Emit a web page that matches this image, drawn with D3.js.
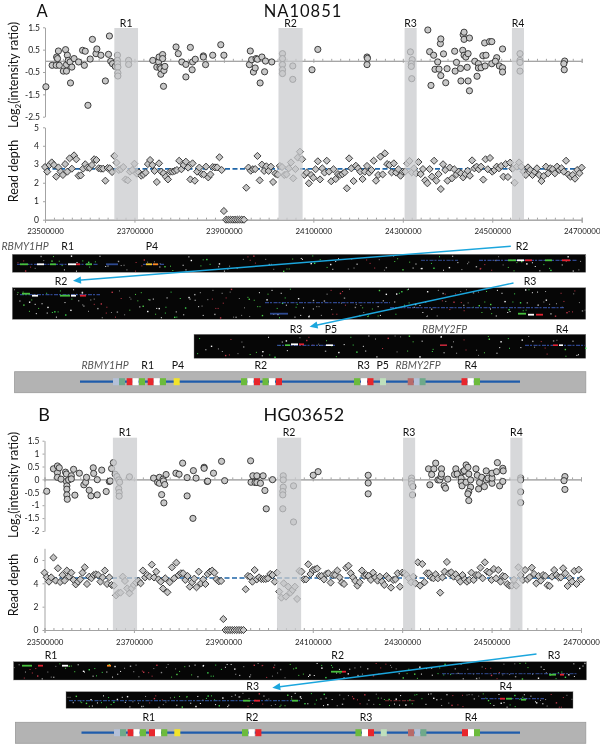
<!DOCTYPE html>
<html><head><meta charset="utf-8">
<script src="https://cdn.jsdelivr.net/npm/d3@7"></script>
<style>html,body{margin:0;padding:0;background:#fff}svg{display:block;filter:blur(.3px)}text{font-family:Lato,"Liberation Sans",sans-serif;fill:#222}</style>
</head><body><svg id="c" width="600" height="745"><defs><filter id="soft" x="-5%" y="-50%" width="110%" height="200%"><feGaussianBlur stdDeviation=".45"/></filter></defs></svg>
<script>
// Positions are kb from the axis start at 23,500,000 bp
const axisStartBp = 23500000, axisSpanKb = 1200, depthStepKb = 5;
const xTickKb = [0,200,400,600,800,1000,1200];
const xMinorKb = d3.range(0,1201,20);

const naLog = [[2,-1.16],[16,-.20],[25,-.20],[26,.17],[28,.10],[30,.44],[32,-.20],[41,-.46],[46,.50],[48,-.46],[50,.25],[48,-.17],[52,.02],[56,-.05],[57,-.99],[60,-.28],[65,.10],[75,-.05],[84,.47],[88,-.20],[90,.43],[96,-1.99],[101,.08],[106,.96],[114,.32],[116,.53],[125,.25],[135,-.90],[142,.29],[144,1.11],[147,-.02],[151,-.13],[157,-.25],[162,.25],[162,.02],[162,-.13],[163,-.28],[163,-.54],[163,-.68],[187,.02],[187,-.16],[241,.02],[250,-.28],[254,-.05],[255,.17],[257,-.28],[259,-.35],[259,-.60],[263,.28],[263,.10],[265,-1.14],[266,-.43],[268,-.25],[293,.62],[298,.32],[306,-.05],[315,-.16],[315,-.72],[325,.60],[330,-.05],[329,-.40],[336,.07],[354,.22],[354,.17],[359,-.17],[375,.25],[393,.72],[400,.25],[457,-.17],[459,.44],[462,.05],[466,-.50],[470,-.32],[472,.10],[475,.07],[481,-.99],[485,.17],[491,-.49],[493,-.01],[507,-.05],[531,.32],[531,.10],[531,-.17],[531,-.40],[531,-.57],[554,-.23],[554,-.83],[597,-.40],[610,.51],[720,.17],[721,.11],[720,-.17],[817,.40],[821,.05],[819,-.13],[819,-.25],[820,-.80],[856,1.38],[860,.41],[863,-1.10],[869,.25],[872,-.38],[878,-.05],[881,-.37],[884,.77],[885,.98],[885,-.66],[891,.31],[896,-.98],[899,-.35],[916,.43],[917,-.46],[920,-.07],[929,-.34],[930,-.90],[934,.47],[935,1.17],[937,1.28],[937,.96],[937,.25],[941,.17],[944,-.29],[946,.32],[946,-.90],[949,1.02],[949,-1.34],[961,-.02],[966,-.69],[969,-.13],[969,-.32],[975,-.31],[979,.23],[983,.80],[986,.25],[984,-.23],[994,.86],[999,.86],[999,-.13],[1010,.14],[1007,-.02],[1016,-.23],[1023,.53],[1023,-.31],[1023,-.50],[1062,.32],[1062,.02],[1062,-.07],[1062,-.46],[1162,-.01],[1160,-.13],[1161,-.40]];

const naDepth = [2.85,2.60,2.96,3.10,2.96,2.33,2.83,2.60,2.42,3.01,2.60,3.32,2.76,3.48,3.27,2.38,2.40,2.76,3.00,2.82,2.80,2.96,3.27,3.23,2.78,2.76,2.76,2.11,2.80,2.78,2.58,3.45,3.09,2.69,2.73,2.85,2.18,2.13,2.60,2.69,3.03,2.50,2.56,2.38,2.45,2.55,3.01,3.23,2.96,2.64,2.04,3.05,2.60,2.51,2.33,2.18,2.60,2.60,2.64,2.69,3.19,2.73,2.96,3.14,2.82,2.18,3.05,2.11,2.60,2.82,2.47,2.45,2.87,2.29,2.45,2.85,2.83,2.83,3.38,2.69,.47,0,0,0,0,0,0,0,0,0,1.73,2.82,2.65,2.73,2.74,3.45,2.13,2.98,2.64,2.89,2.64,2.87,2.04,2.50,2.44,2.91,2.85,2.42,2.45,2.78,3.10,2.24,2.74,3.36,3.68,3.27,2.42,2.55,1.97,2.42,2.27,2.73,3.16,2.18,2.78,2.55,3.19,2.60,2.08,2.73,2.20,2.47,2.42,2.47,2.56,1.70,3.32,2.78,2.09,2.92,2.78,2.60,2.20,2.60,2.91,2.55,2.69,3.19,2.11,2.42,3.41,2.45,3.59,3.01,2.96,2.56,3.05,2.55,2.73,2.38,2.60,2.60,3.05,3.18,2.56,2.78,2.51,3.12,2.47,2.74,2.13,1.97,2.74,2.33,3.19,2.11,2.47,1.66,3.00,2.69,2.11,2.82,2.24,2.73,2.45,2.60,2.51,2.29,2.47,2.65,2.38,3.21,2.78,2.87,2.73,2.87,2.17,3.27,2.73,3.34,2.60,2.69,2.87,2.78,2.91,2.33,3.01,2.31,3.09,2.76,2.00,2.87,3.10,2.87,2.60,2.42,2.83,2.69,2.42,2.60,2.78,2.42,2.09,2.36,2.87,2.51,2.78,2.73,2.51,2.87,2.69,2.78,2.60,3.19,2.45,2.33,2.42,2.22,2.69,2.51,2.82];

const hgLog = [[5,-.46],[20,.41],[29,.52],[29,.26],[29,.08],[33,.45],[37,.01],[47,.28],[49,.21],[49,-.08],[50,-.25],[50,-.38],[50,-.60],[51,-.77],[54,-.02],[60,.14],[60,.02],[65,.39],[68,-.61],[78,.24],[88,-.21],[92,-.11],[94,.08],[100,-.42],[104,-.64],[109,.45],[110,.23],[118,-.01],[118,-.60],[128,.36],[138,-.47],[145,-.08],[147,-.06],[150,.42],[154,.65],[158,.20],[162,.11],[166,-.02],[168,-.11],[166,-.36],[167,-.51],[167,-.65],[190,.10],[244,.05],[253,-.11],[257,.08],[257,-.15],[262,-.59],[265,.01],[266,-.06],[267,-.91],[269,-.20],[272,.19],[294,.24],[301,.20],[309,.63],[319,-.64],[319,.07],[333,.34],[332,-1.51],[339,.05],[357,.47],[357,.43],[364,-.08],[365,-.07],[378,.24],[396,.70],[403,-.05],[461,.72],[462,-.11],[466,.14],[471,-.12],[475,.14],[475,-.12],[483,-.15],[489,.14],[493,-.43],[496,-1.14],[510,-.01],[534,.14],[534,-.02],[534,-.30],[533,-.47],[533,-.60],[533,-1.14],[557,-.25],[557,-1.65],[601,.16],[612,.30],[724,.16],[724,-.14],[724,-.56],[821,.05],[821,-.06],[821,-.17],[824,-.28],[823,-.60],[859,.41],[862,-.21],[866,.19],[871,.41],[875,.63],[880,-.02],[884,-.02],[887,.11],[888,.41],[888,.21],[894,-.25],[897,-.34],[902,.01],[917,.19],[920,.41],[923,.21],[932,.05],[932,-.11],[934,-.25],[936,.30],[939,.34],[943,.56],[947,.47],[943,-.11],[949,.21],[953,-.30],[949,-.47],[947,-.56],[949,-.82],[953,-.02],[965,.41],[968,.16],[971,-.37],[973,-.12],[978,.08],[984,-.28],[988,.33],[988,-.02],[992,.05],[1001,-.15],[1001,.05],[1001,.24],[1011,.30],[1013,.65],[1018,-.25],[1025,.43],[1026,.33],[1025,-.08],[1065,.06],[1065,-.02],[1065,-.48],[1065,-.90],[1164,.11],[1162,-.05],[1164,-.39]];

const hgDepth = [4.91,4.51,4.14,4.51,6.2,4.23,5.29,4.11,4.71,4.23,5.09,4.57,4.91,4.29,3.91,4.14,4.34,4.91,5.37,3.94,4.57,4.43,4.71,4.77,4.71,4.14,4.51,5.09,3.94,4.51,3.86,3.8,2.97,3.17,3.2,4.57,4.2,3.57,3.14,3.57,3.86,4.06,4.23,4.0,5.09,4.51,4.71,4.57,5.6,4.5,5.0,4.34,4.14,3.55,4.43,3.23,4.09,5.37,4.43,5.77,4.71,4.86,4.86,4.29,4.63,3.71,4.09,4.4,3.66,5.0,4.0,4.34,3.94,4.8,5.0,5.09,4.91,4.34,4.17,4.2,.94,0,0,0,0,0,0,0,0,0,3.49,4.63,4.57,4.14,5.14,4.34,4.51,4.37,4.37,4.37,4.43,4.8,4.71,4.14,4.91,3.29,2.77,4.0,2.86,3.71,3.2,3.43,3.71,2.66,5.06,5.0,4.34,4.34,5.63,4.8,5.14,5.2,5.26,4.63,4.63,4.34,4.8,4.86,4.06,4.71,4.71,5.09,4.51,4.06,3.94,5.34,5.51,4.86,4.51,4.2,3.8,4.09,5.09,4.63,4.71,4.63,4.29,4.91,4.51,4.23,4.57,4.14,3.86,4.63,4.43,3.63,4.29,4.34,4.86,3.71,4.91,4.86,4.71,4.43,4.09,4.57,4.0,5.8,3.8,5.66,4.09,4.86,4.86,4.51,4.43,4.77,4.43,3.2,4.51,5.0,5.83,4.86,4.94,4.57,4.77,4.43,4.14,4.71,4.34,4.14,4.29,4.91,4.29,4.71,4.71,5.34,4.43,5.8,5.0,4.91,4.29,5.23,4.43,5.14,4.14,4.63,4.57,3.94,3.8,3.8,4.3,3.8,5.37,4.71,4.29,5.14,4.34,4.51,5.34,4.8,4.0,4.63,4.23,4.71,4.63,3.83,3.77,4.57,5.14,4.71,4.51,4.51,5.29,4.86,3.77,4.43,4.14,5.06,3.94,5.17,4.34];

const repeatNames = ["R1","R2","R3","R4"];
const naBandsKb = [[155,208],[522,576],[804,831],[1044,1071]];
const hgBandsKb = [[153,207],[520,574],[802,829],[1042,1069]];
const naMeanDepth = 2.75, hgMeanDepth = 4.45;
const naLogTicks = [1.5,.5,-.5,-1.5,-2.5];
const hgLogTicks = [1.5,1,.5,0,-.5,-1,-1.5,-2];
const naDepthTicks = [0,1,2,3,4,5];
const hgDepthTicks = [0,2,4,6];

// Schematic cassette tracks: [start along the track, element type]
const boxColours = {p:"#b4c0d8",t:"#6fa98a",r:"#e8262c",w:"#ffffff",g:"#6cbb3c",y:"#f2e32a",l:"#bfe0bc",d:"#b86a6a"};
const naCassette = [[113,"p"],[119,"t"],[126.7,"r"],[132.5,"w"],[139,"g"],[147.7,"r"],[153.7,"w"],[160,"g"],[173.7,"y"],[241,"g"],[247.5,"w"],[254,"r"],[262.5,"g"],[269,"w"],[276,"r"],[354,"g"],[361,"w"],[367.5,"r"],[380,"l"],[407.7,"d"],[414,"p"],[419.6,"t"],[461.5,"r"],[467.7,"w"],[474,"g"]];
const hgCassette = [[114,"p"],[120,"t"],[127.7,"r"],[133.5,"w"],[140,"g"],[149,"r"],[155,"w"],[161.3,"g"],[174.3,"y"],[242,"g"],[248.7,"w"],[255.4,"r"],[355.4,"g"],[362,"w"],[368,"r"],[380.8,"l"],[408,"d"],[414.5,"p"],[420.4,"t"],[462,"r"],[468,"w"],[474,"g"]];

// Optical-map strip traces: [x start, x end, y across strip, colour]
const traceA1 = [[17,98,10,"#3a55b0"],[106,118,10,"#2f4a90"],[143,165,10,"#3a55b0"],[421,458,6,"#2f4a90"],[479,577,6,"#3a55b0"],[508,516,6,"#46c03c"],[517,524,6,"#ffffff"],[525,532,6,"#e02030"],[545,552,6,"#46c03c"],[562,570,6,"#e02030"],[20,28,10,"#46c03c"],[37,44,10,"#ffffff"],[50,56,10,"#46c03c"],[68,76,10,"#ffffff"],[76,80,10,"#e02030"],[86,92,10,"#46c03c"],[146,152,10,"#f2c32a"],[153,158,10,"#ff8a20"]];
const traceA2 = [[20,100,7,"#3a55b0"],[22,30,6,"#46c03c"],[32,38,8,"#ffffff"],[60,70,8,"#46c03c"],[71,76,8,"#ffffff"],[80,86,8,"#e02030"],[265,390,15,"#3a55b0"],[390,565,20,"#3a55b0"],[518,526,26,"#46c03c"],[528,534,27,"#ffffff"],[536,543,27,"#e02030"],[270,288,26,"#2f4a90"]];
const traceA3 = [[277,335,11,"#3a55b0"],[285,290,11,"#46c03c"],[291,298,10,"#ffffff"],[299,304,10,"#e02030"],[326,333,11,"#ffffff"],[440,447,11,"#c02838"],[525,585,11,"#3a55b0"],[553,558,11,"#e02030"],[559,563,11,"#ffffff"]];
const traceB1 = [[22,32,4,"#46c03c"],[38,43,4,"#e02030"],[62,68,4,"#ffffff"],[107,111,4,"#ff8a20"],[331,342,10,"#46c03c"],[342,346,10,"#e02030"],[442,577,12,"#2f4a90"],[549,556,13,"#46c03c"],[560,564,13,"#e02030"]];
const traceB2 = [[69,300,9,"#2f5aa8"],[243,250,9,"#46c03c"],[254,260,9,"#e02030"],[292,298,9,"#46c03c"],[481,544,7,"#3a55b0"],[500,505,7,"#e02030"],[506,512,7,"#46c03c"],[521,526,8,"#46c03c"],[385,415,9,"#7a2a30"]];

// Background specks of the strips: [per-mille across, per-cent down]
const specks = [[12,70],[31,22],[47,88],[63,40],[78,12],[94,64],[108,30],[121,82],[139,52],[152,15],[168,74],[183,38],[197,92],[211,58],[224,20],[239,80],[254,44],[268,10],[281,68],[296,33],[309,86],[323,55],[338,18],[352,76],[367,42],[381,95],[394,25],[408,62],[423,84],[437,36],[452,8],[466,72],[479,48],[493,90],[508,28],[522,66],[537,14],[551,78],[564,46],[579,94],[593,32],[607,60],[621,6],[636,82],[651,40],[664,70],[679,24],[693,54],[707,88],[722,16],[736,64],[751,34],[764,92],[779,50],[793,12],[807,74],[822,38],[836,86],[851,22],[864,58],[879,96],[893,44],[907,68],[921,18],[936,80],[951,30],[964,56],[979,90],[992,26]];
const speckColours = ["#f0f0f0","#4fd048","#a0a0a0","#ffffff","#c03848","#3fd850","#888888"];

const svg = d3.select("#c");
const grey = "#a3a3a3";

function txt(x,y,s,size,opts={}){
  return svg.append("text").attr("x",x).attr("y",y).attr("text-anchor",opts.anchor||"middle")
    .attr("font-size",size).attr("font-style",opts.italic?"italic":null)
    .attr("letter-spacing",opts.spacing||null)
    .style("fill",opts.fill||"#111").text(s);
}
function styleAxis(g){
  g.selectAll("path,line").attr("stroke",grey).attr("stroke-width",1);
  g.selectAll("text").attr("font-size",8.5).style("fill","#222");
}
function panel(o){
  const x = d3.scaleLinear().domain([0,axisSpanKb]).range(o.xr);
  const yL = d3.scaleLinear().domain(o.logDomain).range(o.logRange);
  const yD = d3.scaleLinear().domain(o.depthDomain).range(o.depthRange);
  [[yL(0),false],[yD(0),true]].forEach(([yy,labels])=>{
    const minor = svg.append("g").attr("transform",`translate(0,${yy})`)
      .call(d3.axisTop(x).tickValues(xMinorKb).tickSize(2).tickFormat(""));
    styleAxis(minor);
    const major = svg.append("g").attr("transform",`translate(0,${yy})`)
      .call(d3.axisBottom(x).tickValues(xTickKb).tickSizeOuter(0).tickSize(labels?3:2).tickPadding(labels?6:0)
        .tickFormat(labels?(d=>String(axisStartBp+d*1000)):""));
    styleAxis(major);
    major.selectAll("text").attr("font-size",7.9);
  });
  const la = svg.append("g").attr("transform",`translate(${o.xr[0]},0)`)
    .call(d3.axisLeft(yL).tickValues(o.logTicks).tickSize(2).tickSizeOuter(0).tickPadding(3).tickFormat(d=>String(d)));
  styleAxis(la);
  const da = svg.append("g").attr("transform",`translate(${o.xr[0]},0)`)
    .call(d3.axisLeft(yD).tickValues(o.depthTicks).tickSize(2).tickSizeOuter(0).tickPadding(4).tickFormat(d=>String(d)));
  styleAxis(da);
  svg.append("line").attr("x1",x(0)).attr("x2",x(axisSpanKb)).attr("y1",yD(o.mean)).attr("y2",yD(o.mean))
    .attr("stroke","#1f66a8").attr("stroke-width",1.6).attr("stroke-dasharray","5,2.5");
  svg.append("g").selectAll("circle").data(o.log).join("circle")
    .attr("cx",d=>x(d[0])).attr("cy",d=>yL(d[1])).attr("r",3.1)
    .attr("fill","#c8c8c8").attr("stroke","#2c2c2c").attr("stroke-width",.9);
  const diamond = d3.symbol().type(d3.symbolDiamond2).size(32);
  svg.append("g").selectAll("path").data(o.depth).join("path")
    .attr("d",diamond).attr("transform",(d,i)=>`translate(${x(i*depthStepKb)},${yD(d)})`)
    .attr("fill","#c4c4c4").attr("stroke","#2c2c2c").attr("stroke-width",.9);
  svg.append("g").selectAll("rect").data(o.bands).join("rect")
    .attr("x",d=>x(d[0])).attr("width",d=>x(d[1])-x(d[0]))
    .attr("y",o.bandTop).attr("height",yD(0)-o.bandTop)
    .attr("fill","#c9cbce").attr("fill-opacity",.75);
  o.bands.forEach((b,i)=>txt((x(b[0])+x(b[1]))/2,o.bandTop-1.3,repeatNames[i],10.5));
  txt(o.letterX,o.titleY,o.letter,o.titleSize);
  txt(o.titleX,o.titleY,o.title,o.titleSize,{spacing:o.titleSpacing});
  const lt = svg.append("text").attr("transform",`translate(18,${o.logTitleY}) rotate(-90)`)
    .attr("text-anchor","middle").attr("font-size",12.5).style("fill","#111");
  lt.append("tspan").text("Log");
  lt.append("tspan").attr("font-size",8).attr("dy",3).text("2");
  lt.append("tspan").attr("dy",-3).text("(intensity ratio)");
  svg.append("text").attr("transform",`translate(18,${o.depthTitleY}) rotate(-90)`)
    .attr("text-anchor","middle").attr("font-size",12.5).style("fill","#111").text("Read depth");
}
function strip(x0,x1,y0,y1,traces,shift,nSpecks){
  svg.append("rect").attr("x",x0).attr("y",y0).attr("width",x1-x0).attr("height",y1-y0).attr("fill","#060606").attr("stroke","#888").attr("stroke-width",.4);
  const sx = d3.scaleLinear().domain([0,1000]).range([x0,x1]);
  const sy = d3.scaleLinear().domain([0,100]).range([y0+1,y1-1.5]);
  const g = svg.append("g");
  for(let k=0;k<nSpecks;k++){
    const s = specks[(k*7+shift)%specks.length];
    const px = sx((s[0]+shift*37+k*13)%1000);
    const sz = k%4===0?1.4:1;
    g.append("rect").attr("x",px).attr("y",sy((s[1]+shift*11)%100)).attr("width",sz).attr("height",sz)
      .attr("fill",speckColours[(k+shift)%speckColours.length]);
  }
  const tg = svg.append("g").attr("filter","url(#soft)");
  traces.forEach(t=>{
    const long = t[1]-t[0]>20;
    tg.append("line").attr("x1",t[0]).attr("x2",t[1]).attr("y1",y0+t[2]).attr("y2",y0+t[2])
      .attr("stroke",t[3]).attr("stroke-width",long?1.2:1.8)
      .attr("stroke-dasharray",long?"4,1,2,1.5":null).attr("opacity",long?.8:1);
  });
}
function cassette(x0,x1,y0,y1,lineY,lineX,boxes){
  svg.append("rect").attr("x",x0).attr("y",y0).attr("width",x1-x0).attr("height",y1-y0)
    .attr("fill","#b3b3b3").attr("stroke","#9b9b9b").attr("stroke-width",.8);
  svg.append("line").attr("x1",lineX[0]).attr("x2",lineX[1]).attr("y1",lineY).attr("y2",lineY)
    .attr("stroke","#1f5cab").attr("stroke-width",2.2);
  svg.append("g").selectAll("rect").data(boxes).join("rect")
    .attr("x",d=>d[0]).attr("y",lineY-3.5).attr("width",6).attr("height",7).attr("fill",d=>boxColours[d[1]]);
}
function arrow(x1,y1,x2,y2){
  const a = Math.atan2(y2-y1,x2-x1), L=8, W=3.6;
  svg.append("line").attr("x1",x1).attr("y1",y1).attr("x2",x2-Math.cos(a)*L*.7).attr("y2",y2-Math.sin(a)*L*.7)
    .attr("stroke","#1ba6dd").attr("stroke-width",1.4);
  const p=[[x2,y2],[x2-L*Math.cos(a)-W*Math.sin(a),y2-L*Math.sin(a)+W*Math.cos(a)],[x2-L*Math.cos(a)+W*Math.sin(a),y2-L*Math.sin(a)-W*Math.cos(a)]];
  svg.append("polygon").attr("points",p.map(q=>q.join(",")).join(" ")).attr("fill","#1ba6dd");
}

panel({xr:[45,581.7],log:naLog,depth:naDepth,bands:naBandsKb,mean:naMeanDepth,
  logDomain:[1.5,-2.5],logRange:[27.3,116.7],depthDomain:[0,5],depthRange:[219.7,127.3],
  logTicks:naLogTicks,depthTicks:naDepthTicks,bandTop:28,
  letter:"A",letterX:42,title:"NA10851",titleX:303,titleY:16.5,titleSize:16.5,titleSpacing:1,logTitleY:75,depthTitleY:171});
panel({xr:[44.5,581],log:hgLog,depth:hgDepth,bands:hgBandsKb,mean:hgMeanDepth,
  logDomain:[1.5,-2],logRange:[440.7,531],depthDomain:[0,7],depthRange:[630,548.3],
  logTicks:hgLogTicks,depthTicks:hgDepthTicks,bandTop:437.7,
  letter:"B",letterX:44,title:"HG03652",titleX:304,titleY:421,titleSize:18,titleSpacing:.3,logTitleY:485,depthTitleY:585});

strip(12.3,585.8,254.3,272.3,traceA1,1,130);
strip(12.3,585.8,287.7,319.3,traceA2,2,240);
strip(194,585.8,334.3,358.3,traceA3,3,90);
cassette(14.6,585.8,371.7,392.7,381.7,[80,520],naCassette);
[["RBMY1HP",25,249.5,1],["R1",67.7,249.5],["P4",152,249.5],["R2",522,249.5],["R2",61,285],["R3",530,285],
 ["R3",296,333],["P5",331,333],["RBMY2FP",444.6,333,1],["R4",562,333],
 ["RBMY1HP",105,369,1],["R1",147.7,369],["P4",178,369],["R2",260.8,369],["R3",363.5,369],["P5",382.7,369],["RBMY2FP",418,369,1],["R4",470.8,369]]
 .forEach(l=>txt(l[1],l[2],l[0],10.5,{italic:!!l[3],fill:l[3]?"#555":"#111"}));
arrow(510.8,246.2,73,280.7);
arrow(513.5,283,309.6,326.7);

strip(13.5,586.5,661.7,680,traceB1,4,170);
strip(66,573,691.7,708.3,traceB2,5,170);
cassette(15.4,585.8,722.3,743.3,732.7,[81.5,520],hgCassette);
[["R1",51,658.5],["R2",337.7,658.5],["R3",554,658.5],["R3",252.7,690],["R4",505.8,690],
 ["R1",148.8,721],["R2",252,721],["R3",366,721],["R4",471,721]]
 .forEach(l=>txt(l[1],l[2],l[0],10.5));
arrow(536.5,654,272.3,687.7);
</script></body></html>
